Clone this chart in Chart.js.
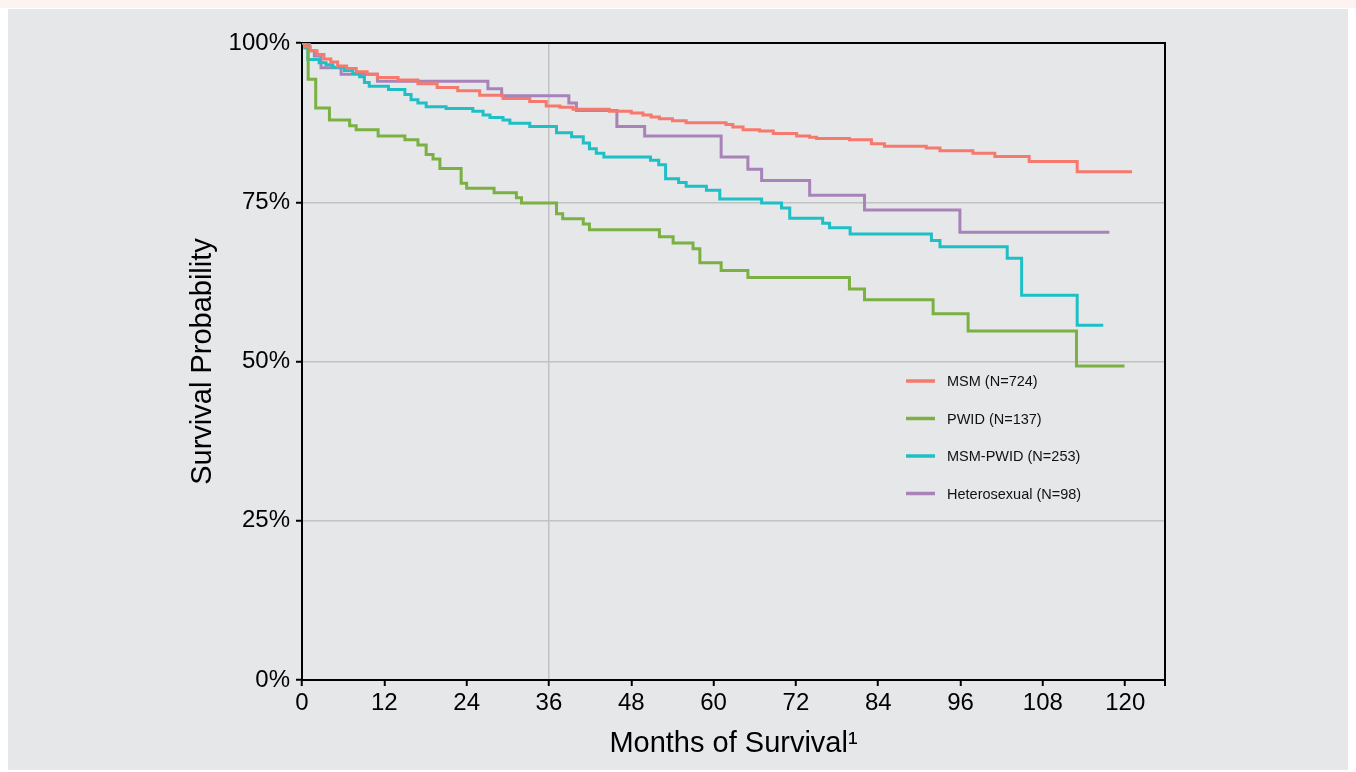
<!DOCTYPE html>
<html>
<head>
<meta charset="utf-8">
<script src="https://cdn.jsdelivr.net/npm/chart.js@4.4.0/dist/chart.umd.min.js"></script>
<style>
  body { margin: 0; background: #ffffff; width: 1356px; height: 772px; overflow: hidden; position: relative; }
  #strip { position: absolute; left: 0; top: 0; width: 1356px; height: 8px; background: #fdf3f1; }
  #panel { position: absolute; left: 8px; top: 9px; width: 1340px; height: 761px; background: #e6e7e9; }
  #chart { position: absolute; left: 0; top: 0; }
</style>
</head>
<body>
<div id="strip"></div>
<div id="panel"></div>
<canvas id="chart" width="1356" height="772"></canvas>
<script>
var FONT = "'Liberation Sans', Arial, Helvetica, sans-serif";

var seriesLabels = ['MSM (N=724)', 'PWID (N=137)', 'MSM-PWID (N=253)', 'Heterosexual (N=98)'];
var seriesColors = ['#f6796d', '#7bb043', '#1fbfc6', '#a783ba'];

// Kaplan-Meier steps: month where survival drops, survival (%) from then on
var msmMonths = [0, 0.5, 1.2, 2.2, 3.2, 4.2, 5.2, 6.5, 7.9, 9.5, 11.0, 14.0, 16.9, 19.7, 22.7, 25.9, 29.3, 33.2, 35.6, 37.6, 39.5, 44.8, 48.0, 49.7, 50.9, 52.1, 54.0, 56.0, 61.8, 62.8, 64.3, 66.7, 68.7, 72.1, 74.0, 75.0, 79.8, 83.0, 84.9, 91.0, 93.0, 97.8, 101.0, 106.0, 113.0, 121.0];
var msmSurv = [100, 99.4, 98.8, 98.2, 97.5, 97.0, 96.4, 96.0, 95.5, 95.1, 94.6, 94.2, 93.6, 93.0, 92.5, 91.8, 91.3, 90.8, 90.1, 89.9, 89.6, 89.3, 89.0, 88.7, 88.4, 88.1, 87.8, 87.5, 87.2, 86.8, 86.4, 86.2, 85.8, 85.4, 85.2, 85.0, 84.8, 84.2, 83.8, 83.5, 83.1, 82.7, 82.2, 81.4, 79.8, 79.8];

var pwidMonths = [0, 0.9, 2.0, 4.0, 6.95, 7.9, 11.1, 15.0, 16.9, 18.1, 19.1, 20.1, 23.2, 24.0, 28.0, 31.25, 32.0, 37.1, 38.0, 41.0, 41.9, 52.1, 54.1, 57.0, 58.0, 61.1, 65.0, 79.8, 82.0, 92.0, 97.1, 112.9, 119.9];
var pwidSurv = [100, 94.3, 89.8, 87.9, 87.0, 86.4, 85.4, 84.8, 84.0, 82.5, 81.8, 80.3, 78.0, 77.2, 76.5, 75.7, 74.9, 73.2, 72.4, 71.6, 70.7, 69.6, 68.6, 67.7, 65.5, 64.3, 63.2, 61.4, 59.7, 57.5, 54.8, 49.3, 49.3];

var msmPwidMonths = [0, 0.4, 0.85, 2.5, 3.5, 4.5, 6.2, 7.4, 8.4, 9.1, 9.8, 12.6, 15.0, 15.9, 16.9, 18.1, 21.0, 24.9, 26.4, 27.4, 29.3, 30.3, 33.2, 37.1, 39.3, 41.0, 41.9, 42.9, 44.0, 50.8, 52.0, 53.0, 54.9, 56.0, 58.95, 60.9, 67.0, 69.9, 71.1, 75.9, 76.9, 79.9, 91.75, 93.0, 102.8, 104.9, 113.0, 116.8];
var msmPwidSurv = [100, 99.2, 97.4, 96.9, 96.6, 96.2, 95.7, 95.2, 94.7, 93.8, 93.2, 92.7, 91.9, 91.1, 90.6, 90.0, 89.7, 89.3, 88.7, 88.3, 87.9, 87.4, 86.9, 85.9, 85.3, 84.3, 83.4, 82.7, 82.1, 81.6, 80.9, 78.7, 78.1, 77.5, 76.9, 75.5, 74.9, 74.1, 72.5, 71.7, 71.0, 70.0, 69.0, 68.0, 66.2, 60.4, 55.7, 55.7];

var hetMonths = [0, 1.07, 1.8, 2.77, 5.7, 11.0, 27.1, 29.1, 38.9, 40.0, 45.9, 49.95, 61.1, 65.0, 67.0, 74.0, 82.0, 95.9, 117.7];
var hetSurv = [100, 98.8, 97.95, 96.1, 95.1, 94.0, 92.8, 91.7, 90.6, 89.4, 86.9, 85.4, 82.1, 80.2, 78.4, 76.1, 73.8, 70.3, 70.3];

var monthTicks = [0, 12, 24, 36, 48, 60, 72, 84, 96, 108, 120];
var percentTicks = [0, 25, 50, 75, 100];

function toPoints(months, surv) {
  return months.map(function (m, i) { return { x: m, y: surv[i] }; });
}

var allMonths = [msmMonths, pwidMonths, msmPwidMonths, hetMonths];
var allSurv = [msmSurv, pwidSurv, msmPwidSurv, hetSurv];

var datasets = seriesLabels.map(function (label, i) {
  return {
    label: label,
    data: toPoints(allMonths[i], allSurv[i]),
    borderColor: seriesColors[i],
    backgroundColor: seriesColors[i],
    borderWidth: 3,
    pointRadius: 0,
    stepped: true,
    fill: false
  };
});

// top and right sides of the box, plus the little tick under the right side
var framePlugin = {
  id: 'frame',
  beforeDatasetsDraw: function (chart) {
    var a = chart.chartArea;
    var ctx = chart.ctx;
    ctx.save();
    ctx.strokeStyle = '#000';
    ctx.lineWidth = 2;
    ctx.beginPath();
    ctx.moveTo(a.left, a.top);
    ctx.lineTo(a.right, a.top);
    ctx.lineTo(a.right, a.bottom + 6);
    ctx.stroke();
    ctx.restore();
  }
};

// legend sits inside the plot, bottom-right of the curves
var legendPlugin = {
  id: 'insideLegend',
  afterDraw: function (chart) {
    var a = chart.chartArea;
    var ctx = chart.ctx;
    var x0 = a.left + 604;
    var y0 = a.top + 338;
    ctx.save();
    ctx.font = '14.5px ' + FONT;
    ctx.textBaseline = 'middle';
    ctx.textAlign = 'left';
    chart.data.datasets.forEach(function (ds, i) {
      var y = y0 + i * 37.5;
      ctx.strokeStyle = ds.borderColor;
      ctx.lineWidth = 3.5;
      ctx.beginPath();
      ctx.moveTo(x0, y);
      ctx.lineTo(x0 + 29, y);
      ctx.stroke();
      ctx.fillStyle = '#111';
      ctx.fillText(ds.label, x0 + 41, y + 1);
    });
    ctx.restore();
  }
};

var canvas = document.getElementById('chart');
new Chart(canvas, {
  type: 'line',
  data: { datasets: datasets },
  options: {
    responsive: false,
    animation: false,
    layout: { padding: { left: 0, top: 43, right: 191, bottom: 0 } },
    plugins: {
      legend: { display: false },
      tooltip: { enabled: false }
    },
    scales: {
      x: {
        type: 'linear',
        min: 0,
        max: 125.8,
        afterFit: function (scale) { scale.height = 92; },
        afterBuildTicks: function (scale) {
          scale.ticks = monthTicks.map(function (v) { return { value: v }; });
        },
        ticks: {
          color: '#000',
          font: { family: FONT, size: 24 },
          padding: 3,
          maxRotation: 0,
          autoSkip: false
        },
        grid: {
          color: function (c) { return c.tick && c.tick.value === 36 ? '#c2c2c2' : 'rgba(0,0,0,0)'; },
          lineWidth: 1.5,
          tickColor: '#000',
          tickLength: 6,
          tickWidth: 2
        },
        border: { color: '#000', width: 2 },
        title: {
          display: true,
          text: 'Months of Survival\u00b9',
          color: '#000',
          font: { family: FONT, size: 29 },
          padding: { top: 0, bottom: 10.6 }
        }
      },
      y: {
        type: 'linear',
        min: 0,
        max: 100,
        afterFit: function (scale) { scale.width = 302; },
        afterBuildTicks: function (scale) {
          scale.ticks = percentTicks.map(function (v) { return { value: v }; });
        },
        ticks: {
          color: '#000',
          font: { family: FONT, size: 24 },
          padding: 6,
          callback: function (v) { return v + '%'; }
        },
        grid: {
          color: function (c) { return c.tick && c.tick.value > 0 && c.tick.value < 100 ? '#c2c2c2' : 'rgba(0,0,0,0)'; },
          lineWidth: 1.5,
          tickColor: '#000',
          tickLength: 6,
          tickWidth: 2
        },
        border: { color: '#000', width: 2 },
        title: {
          display: true,
          text: 'Survival Probability',
          color: '#000',
          font: { family: FONT, size: 29 },
          padding: { top: 185.6, bottom: 0 }
        }
      }
    }
  },
  plugins: [framePlugin, legendPlugin]
});
</script>
</body>
</html>
